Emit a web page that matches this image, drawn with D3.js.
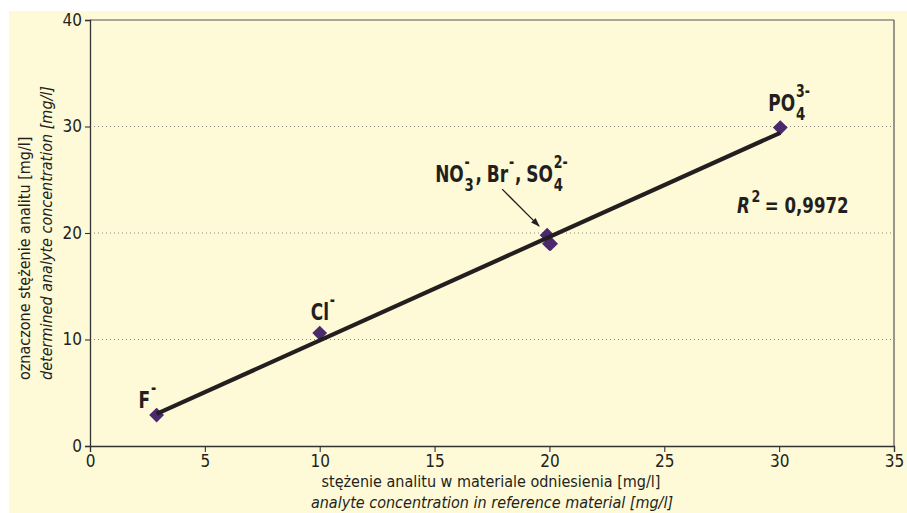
<!DOCTYPE html>
<html>
<head>
<meta charset="utf-8">
<script src="https://cdn.jsdelivr.net/npm/d3@7"></script>
<style>
  html, body { margin: 0; padding: 0; background: #ffffff; }
  svg { display: block; }
  .narrow { font-family: "Liberation Sans Narrow", "DejaVu Sans Condensed", "Roboto", sans-serif; }
</style>
</head>
<body>
<svg id="chart" width="907" height="513"></svg>
<script>
// Reference concentration (x) vs determined concentration (y), mg/l
const analytes = ["F-", "Cl-", "NO3-", "Br-", "SO4 2-", "PO4 3-"];
const referenceConc = [2.9, 10.0, 19.9, 20.0, 20.05, 30.05];
const determinedConc = [2.9, 10.6, 19.8, 19.0, 19.0, 29.9];
const xTicks = [0, 5, 10, 15, 20, 25, 30, 35];
const yTicks = [0, 10, 20, 30, 40];
const gridValues = [10, 20, 30];
const rSquaredText = "0,9972";

const ink = "#231f20";
const pointColor = "#4a2a6c";

const svg = d3.select("#chart");
const width = 907, height = 513;
const margin = { left: 90, right: 13, top: 20, bottom: 67 };

// cream panel
svg.append("rect")
  .attr("x", 9).attr("y", 11)
  .attr("width", width - 9).attr("height", height - 11)
  .attr("fill", "#fef9d6");

const x = d3.scaleLinear().domain([0, 35]).range([margin.left, width - margin.right]);
const y = d3.scaleLinear().domain([0, 40]).range([height - margin.bottom, margin.top]);

// dotted gridlines
svg.append("g").selectAll("line").data(gridValues).join("line")
  .attr("x1", x(0)).attr("x2", x(35))
  .attr("y1", d => y(d)).attr("y2", d => y(d))
  .attr("stroke", "#8a8578").attr("stroke-width", 1)
  .attr("stroke-dasharray", "1,3");

// frame (top and right)
svg.append("line").attr("x1", x(0)).attr("x2", x(35)).attr("y1", y(40)).attr("y2", y(40))
  .attr("stroke", "#555").attr("stroke-width", 1.2);
svg.append("line").attr("x1", x(35)).attr("x2", x(35)).attr("y1", y(40)).attr("y2", y(0))
  .attr("stroke", "#555").attr("stroke-width", 1.2);

// axes
const xAxis = svg.append("g").attr("transform", `translate(0,${y(0)})`)
  .call(d3.axisBottom(x).tickValues(xTicks).tickSize(6).tickPadding(3).tickFormat(d3.format("d")));
const yAxis = svg.append("g").attr("transform", `translate(${x(0)},0)`)
  .call(d3.axisLeft(y).tickValues(yTicks).tickSize(5).tickPadding(3).tickFormat(d3.format("d")));
[xAxis, yAxis].forEach(g => {
  g.select(".domain").attr("stroke", "#333").attr("stroke-width", 1.3);
  g.selectAll(".tick line").attr("stroke", "#333").attr("stroke-width", 1.1);
  g.selectAll(".tick text").attr("class", "narrow").attr("fill", ink).attr("font-size", 17);
});

// least-squares fit of determined vs reference
const n = referenceConc.length;
const mx = d3.mean(referenceConc), my = d3.mean(determinedConc);
let sxy = 0, sxx = 0;
for (let i = 0; i < n; i++) {
  sxy += (referenceConc[i] - mx) * (determinedConc[i] - my);
  sxx += (referenceConc[i] - mx) ** 2;
}
const slope = sxy / sxx, intercept = my - slope * mx;
const [xmin, xmax] = d3.extent(referenceConc);

// points (diamonds)
const diamond = d3.symbol().type(d3.symbolSquare).size(110);
svg.append("g").selectAll("path").data(referenceConc.map((v, i) => [v, determinedConc[i]])).join("path")
  .attr("d", diamond)
  .attr("transform", d => `translate(${x(d[0])},${y(d[1])}) rotate(45)`)
  .attr("fill", pointColor);

// regression line drawn over the points
svg.append("line")
  .attr("x1", x(xmin)).attr("y1", y(intercept + slope * xmin))
  .attr("x2", x(xmax)).attr("y2", y(intercept + slope * xmax))
  .attr("stroke", ink).attr("stroke-width", 4.2);

// ion labels: each piece is its own text, laid out left to right;
// a "stack" piece sits under the previous superscript (chemical notation)
const labels = svg.append("g").attr("class", "narrow").attr("fill", ink).attr("font-weight", "bold");

function richLabel(px, py, parts, size, sx) {
  const g = labels.append("g").attr("transform", `translate(${px},${py}) scale(${sx},1)`);
  let cx = 0, stackStart = 0;
  parts.forEach(p => {
    const start = p.stack ? stackStart : cx + (p.gap || 0);
    const t = g.append("text")
      .attr("x", start).attr("y", p.dy || 0)
      .attr("font-size", p.size || size)
      .text(p.t);
    if (p.italic) t.attr("font-style", "italic");
    const w = t.node().getComputedTextLength();
    if (!p.stack) stackStart = start;
    cx = Math.max(cx, start + w);
  });
  return g;
}

const supStyle = (t, gap) => ({ t, size: 17, dy: -14, gap: gap || 0 });
const subStyle = t => ({ t, size: 18, dy: 9, stack: true });

richLabel(x(referenceConc[0]) - 18, y(determinedConc[0]) - 7,
  [{ t: "F" }, supStyle("-", 1)], 23, 0.82);
richLabel(x(referenceConc[1]) - 9, y(determinedConc[1]) - 13,
  [{ t: "Cl" }, supStyle("-", 1)], 23, 0.82);
richLabel(x(referenceConc[2]) - 112, y(determinedConc[2]) - 53,
  [{ t: "NO" }, supStyle("-", 1), subStyle("3"), { t: ",", gap: 2 }, { t: "Br", gap: 6 }, supStyle("-", 1),
   { t: ",", gap: 1 }, { t: "SO", gap: 6 }, supStyle("2-", 1), subStyle("4")], 23, 0.82);
richLabel(x(referenceConc[5]) - 12, y(determinedConc[5]) - 17,
  [{ t: "PO" }, supStyle("3-", 1), subStyle("4")], 23, 0.82);

// arrow pointing at the cluster near 20 mg/l
svg.append("defs").append("marker")
  .attr("id", "arrowhead").attr("viewBox", "0 0 10 10")
  .attr("refX", 9).attr("refY", 5).attr("markerWidth", 7).attr("markerHeight", 7)
  .attr("orient", "auto")
  .append("path").attr("d", "M0,1.5 L10,5 L0,8.5 Z").attr("fill", ink);
svg.append("line")
  .attr("x1", x(referenceConc[2]) - 45).attr("y1", y(determinedConc[2]) - 46)
  .attr("x2", x(referenceConc[2]) - 8).attr("y2", y(determinedConc[2]) - 9)
  .attr("stroke", ink).attr("stroke-width", 1.3).attr("marker-end", "url(#arrowhead)");

// coefficient of determination
richLabel(737, 213,
  [{ t: "R", italic: true }, { t: "2", size: 16, dy: -11, gap: 2 }, { t: "= " + rSquaredText, gap: 5 }], 21, 0.88);

// axis titles
const xTitle = svg.append("g").attr("class", "narrow").attr("fill", ink).attr("font-size", 16)
  .attr("text-anchor", "middle");
xTitle.append("text").attr("x", 491).attr("y", 487)
  .text("stężenie analitu w materiale odniesienia [mg/l]");
xTitle.append("text").attr("x", 492).attr("y", 508).attr("font-style", "italic")
  .text("analyte concentration in reference material [mg/l]");

const yTitle = svg.append("g").attr("class", "narrow").attr("fill", ink).attr("font-size", 16);
yTitle.append("text").attr("transform", "translate(30,380) rotate(-90)")
  .text("oznaczone stężenie analitu [mg/l]");
yTitle.append("text").attr("transform", "translate(52,380) rotate(-90)").attr("font-style", "italic")
  .text("determined analyte concentration [mg/l]");
</script>
</body>
</html>
